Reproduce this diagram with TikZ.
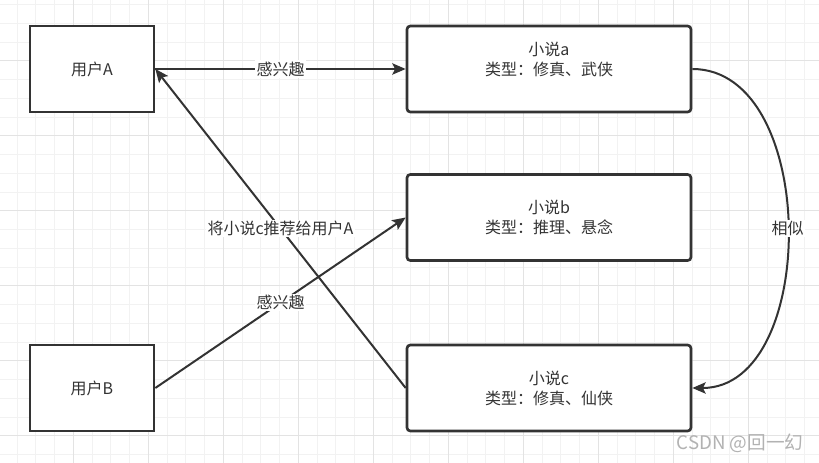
\documentclass[tikz,border=0pt]{standalone}
\usepackage{fontspec}
\setmainfont{Noto Sans CJK SC}
\usetikzlibrary{arrows.meta}
\definecolor{ink}{HTML}{333333}
\definecolor{gridlight}{HTML}{F2F2F2}
\definecolor{griddark}{HTML}{E3E3E3}
\definecolor{wmgray}{HTML}{B2B2B2}
\begin{document}
\begin{tikzpicture}[x=0.75pt,y=-0.75pt,
    userbox/.style={draw=ink,line width=2pt,fill=white,minimum width=93pt,minimum height=64.5pt,
      text=ink,align=center,font=\fontsize{12}{15}\selectfont},
    novelbox/.style={userbox,rounded corners=2.5pt,minimum width=213pt},
    tag/.style={fill=white,inner sep=1pt,text=ink,font=\fontsize{12}{15}\selectfont},
    link/.style={draw=ink,line width=1.5pt,-{Stealth[length=10pt,width=8.5pt,inset=2pt]}}]
    \useasboundingbox (0,0) rectangle (819,463);
    \fill[white] (0,0) rectangle (819,463);
    % background grid
    \foreach \k in {0,...,44}
        {\draw[gridlight,line width=0.75pt] ({-1.7+18.75*\k},0) -- ({-1.7+18.75*\k},463);}
    \foreach \k in {0,...,25}
        {\draw[gridlight,line width=0.75pt] (0,{-14+18.75*\k}) -- (819,{-14+18.75*\k});}
    \foreach \k in {0,...,11}
        {\draw[griddark,line width=0.75pt] ({-1.7+75*\k},0) -- ({-1.7+75*\k},463);}
    \foreach \k in {0,...,6}
        {\draw[griddark,line width=0.75pt] (0,{-14+75*\k}) -- (819,{-14+75*\k});}

    \node[userbox] (userA) at (92,69) {用户A};
    \node[userbox] (userB) at (92,388) {用户B};
    \node[novelbox] (novelA) at (549,69) {小说a\\类型：修真、武侠\\\mbox{}};
    \node[novelbox] (novelB) at (549,217.5) {小说b\\类型：推理、悬念};
    \node[novelbox] (novelC) at (549,388) {小说c\\类型：修真、仙侠};

    \draw[link] (userA.east) -- (novelA.west) node[tag,midway] {感兴趣};
    \draw[link] (userB.east) -- (novelB.west) node[tag,midway] {感兴趣};
    \draw[link] (novelC.west) -- (userA.east) node[tag,midway] {将小说c推荐给用户A};
    \draw[link] (novelA.east) .. controls +(127,0) and +(127,0) .. (novelC.east)
        node[tag,pos=0.5] {相似};

    \node[text=wmgray,font=\fontsize{14}{16}\selectfont] (watermark) at (740,443) {CSDN @回一幻};
\end{tikzpicture}
\end{document}
